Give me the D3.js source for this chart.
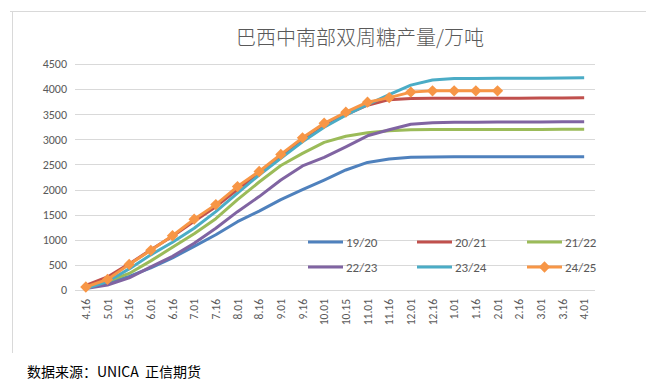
<!DOCTYPE html>
<html>
<head>
<meta charset="utf-8">
<script src="https://cdn.jsdelivr.net/npm/d3@7"></script>
<style>
  body { margin: 0; background: #fff; }
  text { font-family: Calibri, Carlito, "Liberation Sans", "Noto Sans CJK SC", sans-serif; }
</style>
</head>
<body>
<div id="chart"></div>
<script>
// half-month dates along the season
const dates = ["4.16","5.01","5.16","6.01","6.16","7.01","7.16","8.01","8.16","9.01","9.16",
  "10.01","10.15","11.01","11.16","12.01","12.16","1.01","1.16","2.01","2.16","3.01","3.16","4.01"]

const s1920 = [40,140,270,440,640,870,1100,1360,1570,1800,2000,2190,2390,2540,2610,2645,2650,2652,2652,2652,2652,2652,2654,2655]
const s2021 = [90,260,520,800,1070,1370,1660,2000,2320,2650,2970,3260,3490,3680,3790,3815,3820,3820,3820,3820,3820,3822,3825,3830]
const s2122 = [50,170,330,580,850,1120,1420,1800,2150,2480,2720,2940,3060,3130,3170,3190,3195,3198,3198,3198,3198,3198,3200,3200]
const s2223 = [30,100,240,460,670,930,1230,1560,1860,2190,2470,2640,2850,3070,3190,3300,3330,3340,3342,3344,3345,3346,3348,3350]
const s2324 = [30,170,420,700,950,1230,1560,1930,2290,2620,2950,3240,3480,3690,3890,4080,4180,4210,4212,4214,4215,4216,4220,4225]
const s2425 = [60,210,510,790,1080,1410,1700,2060,2360,2700,3030,3320,3540,3740,3830,3940,3965,3965,3965,3965]

const seriesNames = ["19/20","20/21","21/22","22/23","23/24","24/25"]
const seriesColors = ["#4F81BD","#C0504D","#9BBB59","#8064A2","#4BACC6","#F79646"]
const yTicks = [0,500,1000,1500,2000,2500,3000,3500,4000,4500]

const allSeries = [s1920,s2021,s2122,s2223,s2324,s2425]

const width = 667, height = 389
const svg = d3.select("#chart").append("svg")
    .attr("width", width)
    .attr("height", height)

// outer frame (only top and left edges show)
svg.append("line").attr("x1",10).attr("x2",646).attr("y1",11.5).attr("y2",11.5)
    .attr("stroke","#d9d9d9")
svg.append("line").attr("x1",12.5).attr("x2",12.5).attr("y1",11).attr("y2",353)
    .attr("stroke","#d9d9d9")

svg.append("text")
    .attr("x", 360).attr("y", 45)
    .attr("text-anchor","middle")
    .style("font-family","'Noto Sans CJK SC', sans-serif")
    .style("font-weight", 300)
    .style("font-size","20px")
    .attr("fill","#595959")
    .text("巴西中南部双周糖产量/万吨")

const plot = {left: 75, right: 595, top: 64, bottom: 290}

const x = d3.scaleBand().domain(dates).range([plot.left, plot.right])
const y = d3.scaleLinear().domain([0,4500]).range([plot.bottom, plot.top])
const cx = d => x(d) + x.bandwidth()/2

// gridlines
svg.append("g").selectAll("line").data(yTicks).join("line")
    .attr("x1", plot.left).attr("x2", plot.right)
    .attr("y1", d => Math.round(y(d))+0.5).attr("y2", d => Math.round(y(d))+0.5)
    .attr("stroke","#d9d9d9").attr("stroke-width",1)

// y axis labels
const yAxis = svg.append("g")
    .attr("transform",`translate(${plot.left},0)`)
    .call(d3.axisLeft(y).tickValues(yTicks).tickFormat(d3.format("d")).tickSize(0).tickPadding(8))
yAxis.select(".domain").remove()
yAxis.selectAll("text").attr("fill","#595959").style("font-size","12px")

// x axis labels, rotated
const xAxis = svg.append("g")
    .attr("transform",`translate(0,${plot.bottom})`)
    .call(d3.axisBottom(x).tickSize(0))
xAxis.select(".domain").remove()
xAxis.selectAll("text")
    .attr("fill","#595959")
    .style("font-size","11.5px")
    .attr("text-anchor","end")
    .attr("dy","0.35em")
    .attr("transform","rotate(-90)")
    .attr("x",-9).attr("y",0)

const line = d3.line()
    .x((d,i) => cx(dates[i]))
    .y(d => y(d))

allSeries.forEach((vals, k) => {
    svg.append("path")
        .datum(vals)
        .attr("d", line)
        .attr("fill","none")
        .attr("stroke", seriesColors[k])
        .attr("stroke-width", 3)
        .attr("stroke-linejoin","round")
})

// diamonds for 24/25
svg.append("g").selectAll("path").data(s2425).join("path")
    .attr("transform",(d,i) => `translate(${cx(dates[i])},${y(d)}) rotate(45)`)
    .attr("d", d3.symbol().type(d3.symbolSquare).size(64))
    .attr("fill","#F79646")

// legend
const legX = [308, 417, 527]
const legY = [242, 267]
seriesNames.forEach((name, k) => {
    const g = svg.append("g")
        .attr("transform",`translate(${legX[k%3]},${legY[Math.floor(k/3)]})`)
    g.append("line").attr("x1",0).attr("x2",35).attr("y1",0).attr("y2",0)
        .attr("stroke",seriesColors[k]).attr("stroke-width",3)
    if (k === 5) {
        g.append("path").attr("d", d3.symbol().type(d3.symbolSquare).size(64))
            .attr("transform","translate(17.5,0) rotate(45)")
            .attr("fill",seriesColors[k])
    }
    g.append("text").attr("x",38).attr("y",0).attr("dy","0.35em")
        .attr("fill","#595959").style("font-size","13px").text(name)
})

// source note
svg.append("text")
    .attr("x", 27).attr("y", 377)
    .attr("xml:space","preserve")
    .style("white-space","pre")
    .style("font-family","'Noto Sans CJK SC', sans-serif")
    .style("font-size","14px")
    .attr("fill","#000")
    .text("数据来源：UNICA  正信期货")
</script>
</body>
</html>
